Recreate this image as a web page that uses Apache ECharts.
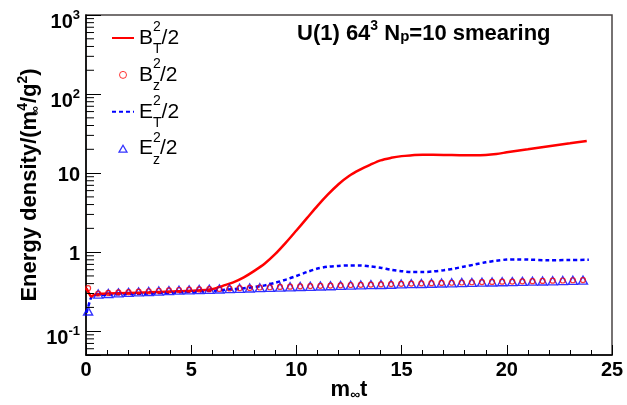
<!DOCTYPE html>
<html>
<head>
<meta charset="utf-8">
<script src="https://cdn.jsdelivr.net/npm/echarts@6/dist/echarts.min.js"></script>
<style>
html, body { margin: 0; padding: 0; background: #fff; }
#chart { width: 627px; height: 405px; }
</style>
</head>
<body>
<div id="chart"></div>
<script>
var FONT = '"Liberation Sans", Arial, Helvetica, sans-serif';

// B_T^2/2 (red solid line)
var tBT = [0.02, 0.12, 0.25, 0.4, 0.7, 1, 2, 3, 4, 5, 6, 6.5, 7, 7.5, 8, 8.5, 9, 9.5, 10,
           10.5, 11, 11.5, 12, 12.5, 13, 13.5, 14, 14.5, 15, 15.5, 16, 17, 18, 18.5, 19,
           19.5, 20, 21, 22, 23, 23.8];
var valBT = [0.35, 0.31, 0.275, 0.29, 0.297, 0.30, 0.305, 0.31, 0.318, 0.326, 0.34, 0.375, 0.415,
             0.48, 0.58, 0.72, 0.95, 1.32, 1.88, 2.69, 3.85, 5.37, 7.24, 9.2, 10.96, 12.7, 14.5,
             15.6, 16.4, 16.8, 17.1, 17.0, 16.8, 16.8, 17.0, 17.5, 18.3, 20.0, 21.9, 23.8, 25.5];

// E_T^2/2 (blue dotted line)
var tET = [0.02, 0.1, 0.2, 0.3, 0.5, 1, 2, 3, 4, 5, 6, 7, 7.5, 8, 8.5, 9, 9.5, 10, 10.5, 11,
           11.5, 12, 12.5, 13, 13.5, 14, 14.5, 15, 15.5, 16, 16.5, 17, 17.5, 18, 18.5, 19,
           19.5, 20, 20.5, 21, 22, 23, 23.9];
var valET = [0.17, 0.2, 0.25, 0.28, 0.287, 0.29, 0.295, 0.30, 0.308, 0.315, 0.325, 0.34, 0.35,
             0.362, 0.38, 0.41, 0.45, 0.50, 0.56, 0.62, 0.655, 0.67, 0.68, 0.68, 0.66, 0.635,
             0.60, 0.575, 0.56, 0.56, 0.57, 0.59, 0.62, 0.66, 0.70, 0.745, 0.78, 0.805, 0.81,
             0.805, 0.79, 0.795, 0.80];

// sampled points for B_z^2/2 (circles) and E_z^2/2 (triangles)
var tMark = [0.10, 0.58, 1.06, 1.54, 2.02, 2.50, 2.98, 3.46, 3.94, 4.42, 4.90, 5.38, 5.86,
             6.34, 6.82, 7.30, 7.78, 8.26, 8.74, 9.22, 9.70, 10.18, 10.66, 11.14, 11.62,
             12.10, 12.58, 13.06, 13.54, 14.02, 14.50, 14.98, 15.46, 15.94, 16.42, 16.90,
             17.38, 17.86, 18.34, 18.82, 19.30, 19.78, 20.26, 20.74, 21.22, 21.70, 22.18,
             22.66, 23.14, 23.62];
var valBz = [0.35, 0.30, 0.305, 0.31, 0.313, 0.317, 0.32, 0.325, 0.328, 0.332, 0.335, 0.338,
             0.34, 0.343, 0.347, 0.35, 0.353, 0.357, 0.36, 0.363, 0.366, 0.37, 0.372, 0.375,
             0.378, 0.381, 0.384, 0.386, 0.389, 0.392, 0.395, 0.398, 0.40, 0.403, 0.405, 0.408,
             0.41, 0.413, 0.416, 0.418, 0.42, 0.423, 0.425, 0.428, 0.43, 0.433, 0.436, 0.438,
             0.441, 0.444];
var valEz = [0.18, 0.295, 0.30, 0.305, 0.31, 0.314, 0.318, 0.322, 0.326, 0.33, 0.333, 0.336,
             0.339, 0.342, 0.345, 0.349, 0.352, 0.355, 0.358, 0.361, 0.364, 0.368, 0.37, 0.373,
             0.376, 0.379, 0.382, 0.385, 0.388, 0.39, 0.393, 0.396, 0.399, 0.401, 0.404, 0.407,
             0.409, 0.412, 0.414, 0.417, 0.419, 0.422, 0.424, 0.427, 0.429, 0.432, 0.434, 0.437,
             0.44, 0.443];

// log-axis minor tick positions
var yMinorTicks = [0.06, 0.07, 0.08, 0.09,
                   0.2, 0.3, 0.4, 0.5, 0.6, 0.7, 0.8, 0.9,
                   2, 3, 4, 5, 6, 7, 8, 9,
                   20, 30, 40, 50, 60, 70, 80, 90,
                   200, 300, 400, 500, 600, 700, 800, 900];

var legendText = {
    BT: '{m|B}{p|2}{s|T}{m|/2}',
    Bz: '{m|B}{p|2}{s|z}{m|/2}',
    ET: '{m|E}{p|2}{s|T}{m|/2}',
    Ez: '{m|E}{p|2}{s|z}{m|/2}'
};

function pairs(xs, ys) {
    var out = [];
    for (var i = 0; i < xs.length; i++) out.push([xs[i], ys[i]]);
    return out;
}

var chart = echarts.init(document.getElementById('chart'), null, { renderer: 'canvas' });

var option = {
    animation: false,
    textStyle: { fontFamily: FONT },
    grid: {
        left: 86, right: 15, top: 15, bottom: 50,
        show: true, borderColor: '#4a4444', borderWidth: 1.5,
        containLabel: false, outerBoundsMode: 'none'
    },
    title: {
        text: 'U(1) 64{p|3} N{s|p}=10 smearing',
        left: 297, top: 23, padding: 0,
        textStyle: {
            fontFamily: FONT, fontSize: 22, fontWeight: 'bold', color: '#000',
            rich: {
                p: { fontFamily: FONT, fontSize: 14, fontWeight: 'bold', lineHeight: 14, padding: [0, 0, 15, 0] },
                s: { fontFamily: FONT, fontSize: 15, fontWeight: 'bold', lineHeight: 15, padding: [5, 0, 0, 0] }
            }
        }
    },
    legend: {
        orient: 'vertical',
        left: 111, top: 20, padding: 0,
        itemWidth: 22, itemHeight: 7, itemGap: 0.9,
        selectedMode: false,
        data: [
            { name: 'BT', itemStyle: { opacity: 0 } },
            { name: 'Bz', icon: 'path://M0,3A3,3,0,1,0,6,3A3,3,0,1,0,0,3Z', itemStyle: { borderWidth: 1 } },
            { name: 'ET', itemStyle: { opacity: 0 } },
            { name: 'Ez', icon: 'path://M4,0L8,7L0,7Z', itemStyle: { borderWidth: 1.3 } }
        ],
        formatter: function (name) { return legendText[name]; },
        textStyle: {
            color: '#000',
            rich: {
                m: { fontFamily: FONT, fontSize: 21, lineHeight: 36, color: '#000' },
                p: { fontFamily: FONT, fontSize: 14, lineHeight: 14, verticalAlign: 'top', width: 0, color: '#000' },
                s: { fontFamily: FONT, fontSize: 14, lineHeight: 19, verticalAlign: 'bottom', color: '#000' }
            }
        }
    },
    xAxis: {
        type: 'value', min: 0, max: 25, interval: 5,
        name: 'm{s|∞}t', nameLocation: 'middle', nameGap: 24, nameMoveOverlap: false,
        nameTextStyle: {
            fontFamily: FONT, fontSize: 22, fontWeight: 'bold', color: '#000',
            rich: {
                s: { fontFamily: FONT, fontSize: 14, fontWeight: 'bold', lineHeight: 14, padding: [10, 0, 0, 0] }
            }
        },
        axisLine: { lineStyle: { color: '#000', width: 1.5 } },
        axisTick: { inside: true, length: 10, lineStyle: { color: '#000', width: 1 } },
        minorTick: { show: true, splitNumber: 5, length: 5, lineStyle: { color: '#000', width: 1 } },
        splitLine: { show: false },
        axisLabel: { fontFamily: FONT, fontSize: 20, fontWeight: 'bold', color: '#000', margin: 5 }
    },
    yAxis: {
        type: 'log', logBase: 10, min: 0.05, max: 1000,
        name: 'Energy density/(m{s|∞}{p|4}/g{p|2})',
        nameLocation: 'middle', nameGap: 45, nameMoveOverlap: false,
        nameTextStyle: {
            fontFamily: FONT, fontSize: 22, fontWeight: 'bold', color: '#000',
            rich: {
                p: { fontFamily: FONT, fontSize: 14, fontWeight: 'bold', lineHeight: 14, padding: [0, 0, 14, 0] },
                s: { fontFamily: FONT, fontSize: 13, fontWeight: 'bold', lineHeight: 13, padding: [10, 0, 0, 0], width: 0 }
            }
        },
        axisLine: { lineStyle: { color: '#000', width: 1.5 } },
        axisTick: { inside: true, length: 15, lineStyle: { color: '#000', width: 1 } },
        minorTick: { show: false },
        splitLine: { show: false },
        axisLabel: {
            margin: 6, color: '#000',
            formatter: function (v) {
                var lg = Math.log(v) / Math.LN10;
                var e = Math.round(lg);
                if (Math.abs(lg - e) > 1e-6) return '';
                if (e === 0) return '{m|1}';
                if (e === 1) return '{m|10}';
                return '{n|10}{e|' + e + '}';
            },
            rich: {
                m: { fontFamily: FONT, fontSize: 20, fontWeight: 'bold', lineHeight: 20, padding: [5, 0, 0, 0] },
                n: { fontFamily: FONT, fontSize: 20, fontWeight: 'bold', lineHeight: 20, padding: [14, 0, 0, 0] },
                e: { fontFamily: FONT, fontSize: 13, fontWeight: 'bold', lineHeight: 13 }
            }
        }
    },
    series: [
        {
            name: 'BT', type: 'line', data: pairs(tBT, valBT),
            symbol: 'none', smooth: 0.3,
            lineStyle: { color: '#ff0000', width: 2.5 },
            itemStyle: { color: '#ff0000' }, z: 4
        },
        {
            name: 'Bz', type: 'scatter', data: pairs(tMark, valBz),
            symbol: 'circle', symbolSize: 5,
            itemStyle: { color: 'rgba(255,255,255,0)', borderColor: '#ff0000', borderWidth: 1.2 }, z: 6
        },
        {
            name: 'ET', type: 'line', data: pairs(tET, valET),
            symbol: 'none', smooth: 0.3,
            lineStyle: { color: '#0000ff', width: 2.5, type: [4, 3] },
            itemStyle: { color: '#0000ff' }, z: 3
        },
        {
            name: 'Ez', type: 'scatter', data: pairs(tMark, valEz),
            symbol: 'triangle', symbolSize: [9, 8],
            itemStyle: { color: 'rgba(255,255,255,0)', borderColor: '#0000ff', borderWidth: 1.4 }, z: 5
        },
        {
            name: 'minorTicks', type: 'custom', coordinateSystem: 'cartesian2d',
            silent: true, clip: false, z: 7,
            data: yMinorTicks.map(function (v) { return [0, v]; }),
            renderItem: function (params, api) {
                var p = api.coord([0, api.value(1)]);
                return {
                    type: 'line',
                    shape: { x1: p[0], y1: p[1], x2: p[0] + 8, y2: p[1] },
                    style: { stroke: '#000', lineWidth: 1 }
                };
            }
        }
    ]
};

chart.setOption(option);
</script>
</body>
</html>
